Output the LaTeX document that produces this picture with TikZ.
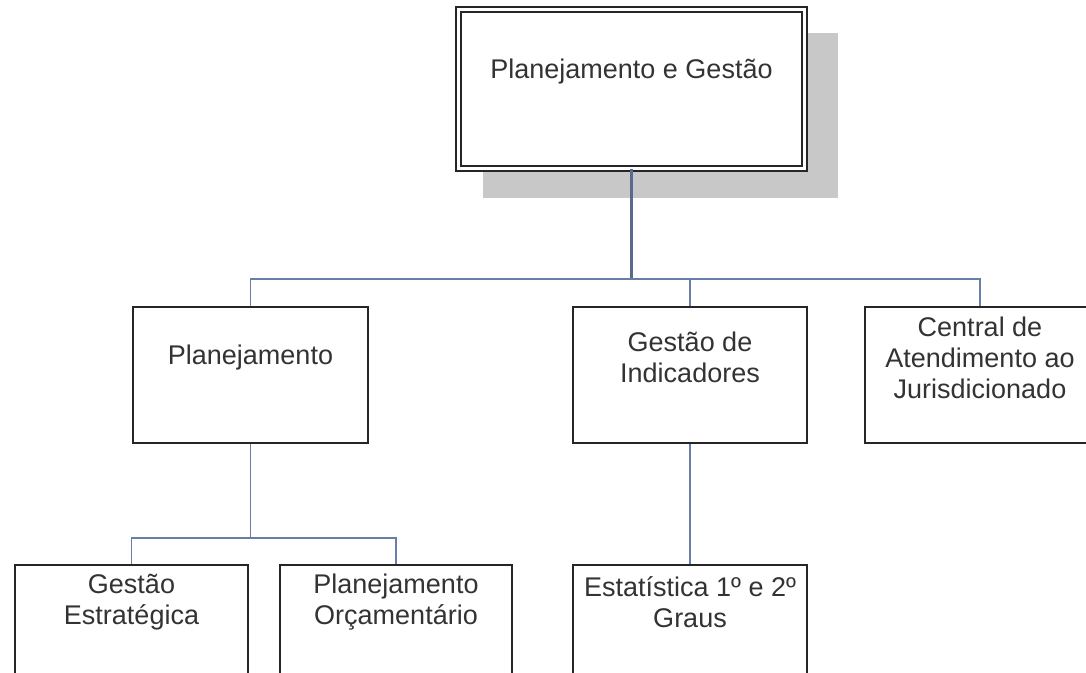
\documentclass[tikz,border=0pt]{standalone}
\usepackage{fontspec}
\setmainfont{Liberation Sans}
\usetikzlibrary{positioning}
\definecolor{linkblue}{RGB}{104,126,166}
\definecolor{shadowgray}{RGB}{200,200,200}

\begin{document}
\begin{tikzpicture}[
        x=1pt, y=-1pt,
        box/.style={rectangle, draw=black!85, line width=1.6pt, fill=white, minimum width=234pt, minimum height=136pt, inner sep=0pt},
        topbox/.style={rectangle, draw=black!85, double, double distance=3.6pt, line width=1.4pt, fill=white, minimum width=346pt, minimum height=159pt, inner sep=0pt},
        boxtext/.style={font=\fontsize{27}{31}\selectfont, align=center, text=black!80},
        link/.style={draw=linkblue, line width=1.4pt},
        mainlink/.style={draw=linkblue!85!black, line width=2.6pt}
    ]
    \useasboundingbox (0,0) rectangle (1086,672);

    % sombra e caixa principal
    \fill[shadowgray] (483,33) rectangle (838,198);
    \node[topbox] (top) at (631.5,89) {};
    \node[boxtext] (top-t) at ([yshift=-63pt]top.north) {Planejamento e Gestão};

    % segundo nível
    \node[box, minimum width=235pt] (plan) at (250.5,375) {};
    \node[box] (ind) at (690,375) {};
    \node[box, minimum width=230pt] (cent) at (980,375) {};
    \node[boxtext] (plan-t) at ([yshift=-51pt]plan.north) {Planejamento};
    \node[boxtext] (ind-t) at ([yshift=-51pt]ind.north) {Gestão de\\Indicadores};
    \node[boxtext] (cent-t) at ([yshift=-52pt]cent.north) {Central de\\Atendimento ao\\Jurisdicionado};

    % terceiro nível
    \node[box, minimum width=233pt] (estr) at (131.5,633) {};
    \node[box, minimum width=232pt] (orc) at (396,633) {};
    \node[box] (est) at (690,633) {};
    \node[boxtext] (estr-t) at ([yshift=-38pt]estr.north) {Gestão\\Estratégica};
    \node[boxtext] (orc-t) at ([yshift=-38pt]orc.north) {Planejamento\\Orçamentário};
    \node[boxtext] (est-t) at ([yshift=-38pt]est.north) {Estatística 1º e 2º\\Graus};

    % ligações
    \coordinate (bus1) at (0,279);
    \coordinate (bus2) at (0,538);
    \draw[mainlink] (top.south) -- (top.south |- bus1);
    \draw[link] (plan.north) -- (plan.north |- bus1) -- (cent.north |- bus1) -- (cent.north);
    \draw[link] (ind.north) -- (ind.north |- bus1);
    \draw[link] (plan.south) -- (plan.south |- bus2);
    \draw[link] (estr.north) -- (estr.north |- bus2) -- (orc.north |- bus2) -- (orc.north);
    \draw[link] (ind.south) -- (est.north);

\end{tikzpicture}
\end{document}
